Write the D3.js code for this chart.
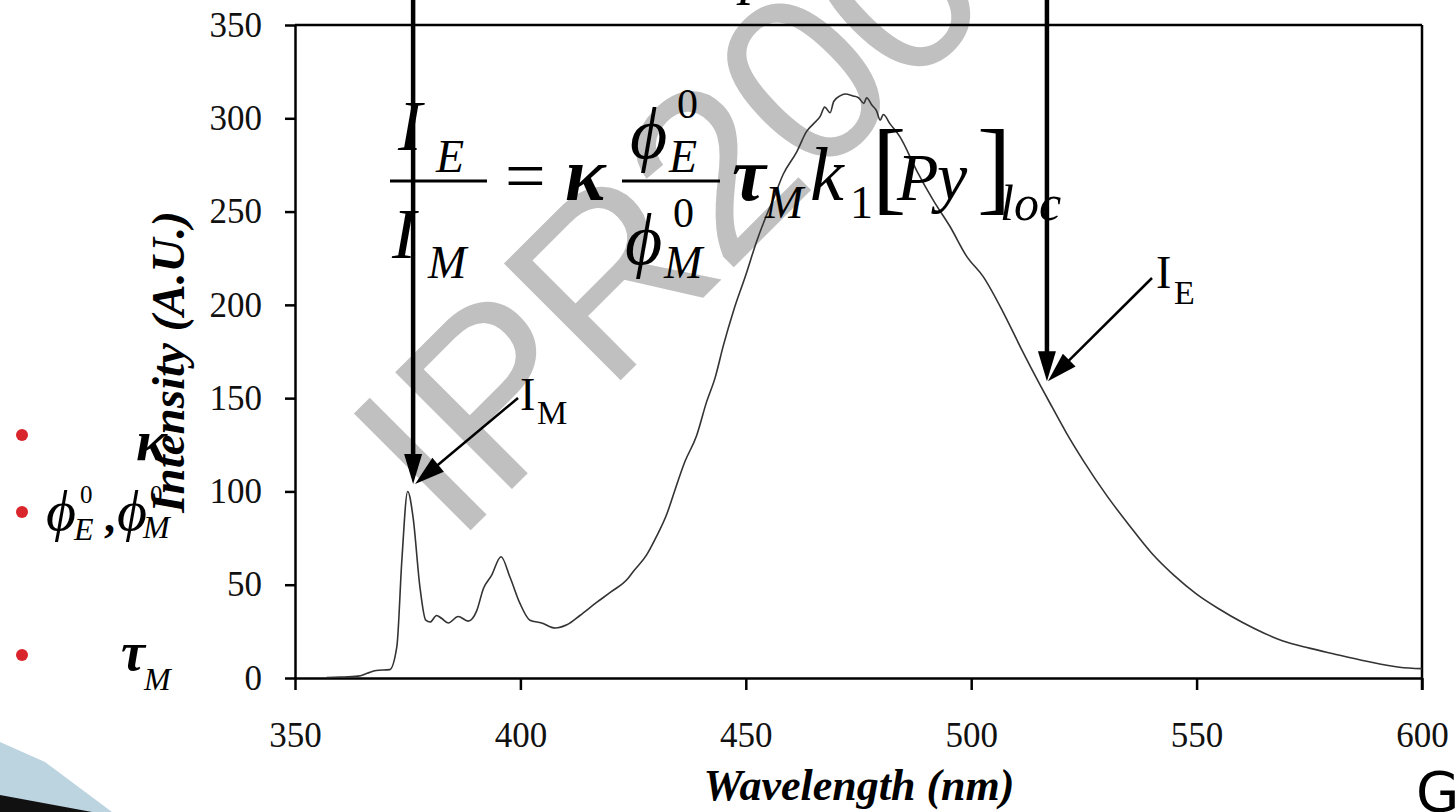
<!DOCTYPE html>
<html>
<head>
<meta charset="utf-8">
<script src="https://cdn.jsdelivr.net/npm/d3@7"></script>
<style>
  html, body { margin: 0; padding: 0; background: #fff; }
  svg { display: block; }
</style>
</head>
<body>
<div id="chart"></div>
<script>
// spectrum
var wavelength = [357, 360, 364, 366, 368, 371, 372.6, 373.7, 375, 376.2, 377.7, 379, 380, 381.4, 382.5, 384,
  386.2, 388.4, 390.3, 391.8, 393.6, 395.7, 397.7, 399.9, 402.1, 404.7, 407.7, 410.3, 413.2, 416.9, 420,
  423.9, 425, 428, 430, 432.5, 433.9, 436.5, 439.1, 441.3, 443.2, 445, 447.3, 450, 452.4, 454.6, 456,
  458.3, 461.3, 463.5, 465, 466.5, 467.5, 468.7, 469.5, 470.9, 472, 473.8, 475, 476.2, 476.8, 478, 479,
  479.8, 480.5, 482, 484.2, 487.9, 491.6, 495.3, 499, 502.7, 507.1, 511, 515.3, 518, 521.2, 525, 530,
  535, 540, 545, 550, 555, 560, 565, 569, 575, 580.3, 587.7, 595, 600];
var intensity = [0.3, 0.5, 1, 2.5, 4, 4.5, 17, 63, 100, 86, 49, 31, 30, 33.5, 32, 29.5,
  33, 30.5, 36, 48, 55, 65, 54, 40, 31, 29.5, 26.8, 28.5, 33.5, 40.5, 46,
  53.5, 57, 66, 75, 88, 98, 116, 130, 148, 161, 178, 197, 216, 234, 248, 256,
  270, 282, 293, 297, 301, 306, 303, 309, 312, 313, 312, 311, 308, 311, 307, 304,
  299, 302, 297, 290, 272, 256, 242, 226, 215, 196, 177, 157, 145, 131, 116, 98,
  82, 67, 55, 45, 37, 30, 24, 20, 16, 13, 9, 5.8, 5];

var xTicks = [350, 400, 450, 500, 550, 600];
var yTicks = [0, 50, 100, 150, 200, 250, 300, 350];

// arrow targets (wavelength, intensity)
var peakM = [376.2, 104];
var peakE = [516.8, 159];

var W = 1455, H = 812;
var serif = "'Liberation Serif', 'Times New Roman', 'DejaVu Serif', serif";

var svg = d3.select("#chart").append("svg")
  .attr("width", W)
  .attr("height", H);

var x = d3.scaleLinear().domain([350, 600]).range([295, 1422]);
var y = d3.scaleLinear().domain([0, 350]).range([678, 25]);

// watermark sits under everything
svg.append("text")
  .attr("transform", "translate(455,546) rotate(-45)")
  .attr("font-family", "'Liberation Sans', Arial, sans-serif")
  .attr("font-size", 240)
  .attr("letter-spacing", -6)
  .attr("fill", "#c0c0c0")
  .text("IPR2008");

// slide decoration bottom-left
svg.append("path")
  .attr("d", "M0,742 L45,762 L112,812 L0,812 Z")
  .attr("fill", "#bcd3e0");
svg.append("path")
  .attr("d", "M0,795 L92,812 L0,812 Z")
  .attr("fill", "#111");

// axes
svg.append("g")
  .attr("transform", "translate(295,0)")
  .call(d3.axisLeft(y).tickValues(yTicks).tickSize(10).tickSizeOuter(0).tickPadding(23));

svg.append("g")
  .attr("transform", "translate(0,678)")
  .call(d3.axisBottom(x).tickValues(xTicks).tickSize(12).tickSizeOuter(0).tickPadding(32));

svg.selectAll(".domain, .tick line")
  .attr("stroke", "#000")
  .attr("stroke-width", 2.5);
svg.selectAll(".tick text")
  .attr("font-family", serif)
  .attr("font-size", 35)
  .attr("fill", "#111");

// top and right frame
svg.append("line")
  .attr("x1", 295).attr("x2", 1422).attr("y1", 25).attr("y2", 25)
  .attr("stroke", "#000").attr("stroke-width", 2.5);
svg.append("line")
  .attr("x1", 1422).attr("x2", 1422).attr("y1", 25).attr("y2", 690)
  .attr("stroke", "#000").attr("stroke-width", 2.5);

// spectrum
var line = d3.line()
  .x(function(d, i) { return x(wavelength[i]); })
  .y(function(d) { return y(d); })
  .curve(d3.curveMonotoneX);

svg.append("path")
  .datum(intensity)
  .attr("d", line)
  .attr("fill", "none")
  .attr("stroke", "#333")
  .attr("stroke-width", 1.6);

// axis titles
svg.append("text")
  .attr("x", 859).attr("y", 800)
  .attr("text-anchor", "middle")
  .attr("font-family", serif)
  .attr("font-size", 44)
  .attr("font-weight", "bold")
  .attr("font-style", "italic")
  .text("Wavelength (nm)");

svg.append("text")
  .attr("transform", "translate(184,362) rotate(-90)")
  .attr("text-anchor", "middle")
  .attr("font-family", serif)
  .attr("font-size", 47)
  .attr("font-weight", "bold")
  .attr("font-style", "italic")
  .text("Intensity (A.U.)");

// helper for formula pieces
function txt(px, py, s, size, italic, bold) {
  return svg.append("text")
    .attr("x", px).attr("y", py)
    .attr("font-family", serif)
    .attr("font-size", size)
    .attr("font-style", italic ? "italic" : "normal")
    .attr("font-weight", bold ? "bold" : "normal")
    .attr("fill", "#000")
    .text(s);
}

// I_E / I_M = kappa phi_E/phi_M tau_M k1 [Py]loc
txt(398, 150, "I", 72, true);
txt(436, 172, "E", 46, true);
svg.append("line").attr("x1", 390).attr("x2", 487).attr("y1", 181).attr("y2", 181)
  .attr("stroke", "#000").attr("stroke-width", 3);
txt(392, 258, "I", 72, true);
txt(428, 278, "M", 46, true);
txt(505, 200, "=", 72, false);
txt(565, 200, "\u03ba", 76, true, true);
svg.append("line").attr("x1", 622).attr("x2", 720).attr("y1", 181).attr("y2", 181)
  .attr("stroke", "#000").attr("stroke-width", 3);
txt(630, 158, "\u03d5", 72, true);
txt(677, 118, "0", 42, false);
txt(669, 172, "E", 46, true);
txt(625, 264, "\u03d5", 72, true);
txt(673, 227, "0", 42, false);
txt(664, 278, "M", 46, true);
txt(732, 200, "\u03c4", 76, true, true);
txt(765, 218, "M", 46, true);
txt(810, 200, "k", 76, true);
txt(850, 218, "1", 46, false);
txt(872, 201, "[", 103, false);
txt(897, 200, "P", 68, true);
txt(937, 200, "y", 68, true);
txt(977, 201, "]", 103, false);
txt(1000, 220, "loc", 50, true);
txt(740, -8, "p", 60, true);

// left bullet list
var bulletY = [435, 512, 655];
svg.selectAll("circle.bullet")
  .data(bulletY)
  .enter().append("circle")
  .attr("class", "bullet")
  .attr("cx", 22).attr("cy", function(d) { return d; })
  .attr("r", 6)
  .attr("fill", "#d9262c");

txt(136, 460, "\u03ba", 58, true, true);
txt(46, 530, "\u03d5", 58, true);
txt(80, 503, "0", 25, false);
txt(74, 540, "E", 32, true);
txt(104, 532, ",", 44, false, true);
txt(117, 530, "\u03d5", 58, true);
txt(150, 503, "0", 25, false);
txt(143, 538, "M", 32, true);
txt(121, 670, "\u03c4", 54, true, true);
txt(144, 690, "M", 32, true);

// arrows
function arrow(x1, y1, x2, y2, w, headLen, headHalf) {
  var dx = x2 - x1, dy = y2 - y1, len = Math.sqrt(dx * dx + dy * dy);
  var ux = dx / len, uy = dy / len;
  var bx = x2 - ux * headLen, by = y2 - uy * headLen;
  svg.append("line")
    .attr("x1", x1).attr("y1", y1).attr("x2", bx + ux * 2).attr("y2", by + uy * 2)
    .attr("stroke", "#000").attr("stroke-width", w);
  svg.append("path")
    .attr("d", "M" + x2 + "," + y2 +
      "L" + (bx - uy * headHalf) + "," + (by + ux * headHalf) +
      "L" + (bx + uy * headHalf) + "," + (by - ux * headHalf) + "Z")
    .attr("fill", "#000");
}

arrow(x(peakM[0]), 0, x(peakM[0]), y(peakM[1]), 4.5, 30, 9);
arrow(x(peakE[0]), 0, x(peakE[0]), y(peakE[1]), 4.5, 30, 9);
arrow(518, 398, x(peakM[0]) + 2, y(peakM[1]), 2.5, 30, 9);
arrow(1152, 278, x(peakE[0]) + 1, y(peakE[1]), 2.5, 30, 9);

// arrow labels
txt(520, 410, "I", 46, false);
txt(537, 424, "M", 34, false);
txt(1156, 288, "I", 46, false);
txt(1174, 304, "E", 34, false);

// slide letter bottom-right
svg.append("text")
  .attr("x", 1416).attr("y", 811)
  .attr("font-family", "'DejaVu Sans', 'Noto Sans', sans-serif")
  .attr("font-size", 56)
  .attr("fill", "#000")
  .text("G");
</script>
</body>
</html>
